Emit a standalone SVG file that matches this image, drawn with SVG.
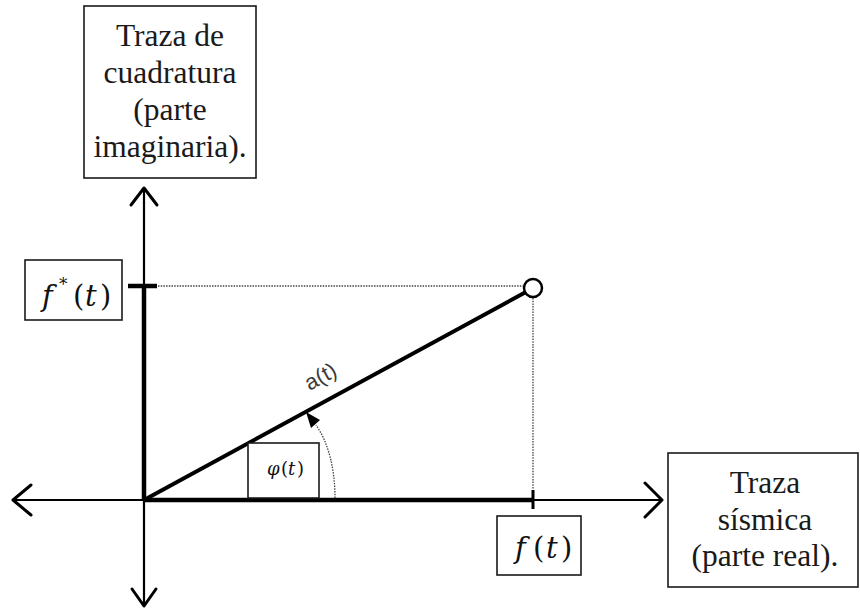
<svg xmlns="http://www.w3.org/2000/svg" width="860" height="610" viewBox="0 0 860 610">
<style>
.box{fill:#fff;stroke:#1a1a1a;stroke-width:1.6}
.lbl{font-family:"Liberation Serif","Times New Roman",serif;font-size:31.5px;fill:#1a1a1a;text-anchor:middle}
.math{font-family:"DejaVu Serif","Liberation Serif",serif;fill:#111}
.it{font-style:italic}
.thin{stroke:#000;stroke-width:2.2;fill:none}
.thick{stroke:#000;stroke-width:4.5;fill:none}
.dot{stroke:#444;stroke-width:1.3;stroke-dasharray:1.5 1.2;fill:none}
.head{stroke:#000;stroke-width:3;fill:none;stroke-linecap:round;stroke-linejoin:round}
</style>
<rect width="860" height="610" fill="#fff"/>
<g id="connectors">
  <line class="thin" x1="13" y1="500" x2="662" y2="500"/>
  <line class="thin" x1="144" y1="188" x2="144" y2="606"/>
  <line class="thick" x1="144" y1="500" x2="533" y2="500"/>
  <line class="thick" x1="144" y1="286" x2="144" y2="500"/>
  <line class="thick" x1="128" y1="286" x2="157" y2="286"/>
  <line stroke="#000" stroke-width="3" x1="533" y1="490" x2="533" y2="509"/>
  <polyline class="head" points="131,205 144,188 157,205"/>
  <polyline class="head" points="132,589 144,606 156,589"/>
  <polyline class="head" points="31,485 13,500 31,515"/>
  <polyline class="head" points="645,483 662,500 645,517"/>
  <line class="dot" x1="158" y1="286" x2="523" y2="286"/>
  <line class="dot" x1="533" y1="298" x2="533" y2="489"/>
  <line stroke="#000" stroke-width="4" x1="144" y1="500" x2="525" y2="292.5"/>
  <path class="dot" d="M335,498 C335,468 328,442 316,425"/>
  <polygon points="306,412 320,420 311,428" fill="#000"/>
</g>
<g id="point">
  <circle cx="533" cy="288" r="9" fill="#fff" stroke="#000" stroke-width="2.5"/>
</g>
<g id="label-at">
  <text transform="translate(324,383) rotate(-28.6)" font-family="Liberation Sans, Arial, sans-serif" font-size="22" fill="#3a3a3a" text-anchor="middle">a(t)</text>
</g>
<g id="node-imag">
  <rect class="box" x="84" y="6" width="172" height="172"/>
  <text class="lbl" x="170" y="46">Traza de</text>
  <text class="lbl" x="170" y="83">cuadratura</text>
  <text class="lbl" x="170" y="120">(parte</text>
  <text class="lbl" x="170" y="157">imaginaria).</text>
</g>
<g id="node-real">
  <rect class="box" x="668" y="453" width="190" height="134"/>
  <text class="lbl" x="765" y="493">Traza</text>
  <text class="lbl" x="765" y="530">sísmica</text>
  <text class="lbl" x="765" y="566">(parte real).</text>
</g>
<g id="node-fstar">
  <rect class="box" x="25" y="260" width="97" height="60"/>
  <text class="math" font-size="29" y="306"><tspan class="it" x="42">f</tspan><tspan x="59" y="290" font-size="17">*</tspan><tspan x="73" y="306">(</tspan><tspan class="it" x="85">t</tspan><tspan x="100">)</tspan></text>
</g>
<g id="node-f">
  <rect class="box" x="497" y="516" width="84" height="59"/>
  <text class="math" font-size="29" y="558"><tspan class="it" x="515">f</tspan><tspan x="533">(</tspan><tspan class="it" x="546">t</tspan><tspan x="561">)</tspan></text>
</g>
<g id="node-phi">
  <rect class="box" x="248" y="443" width="71" height="55"/>
  <text class="math" font-size="18" y="475"><tspan class="it" x="267">φ</tspan><tspan x="281">(</tspan><tspan class="it" x="288">t</tspan><tspan x="297">)</tspan></text>
</g>
</svg>
